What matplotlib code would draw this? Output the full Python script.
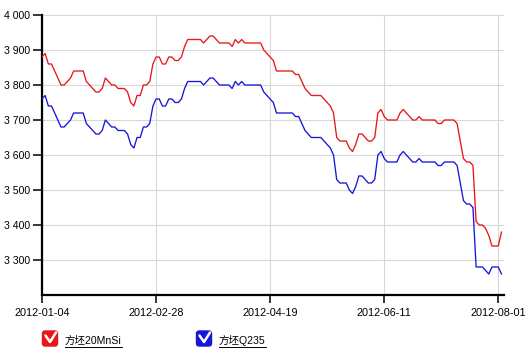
import matplotlib
matplotlib.use("Agg")
import matplotlib.pyplot as plt
from matplotlib.patches import FancyBboxPatch
from matplotlib.ticker import FuncFormatter

# price series, one value per trading day (tick every 36 days)
red_vals = [
    3880, 3890, 3860, 3860, 3840, 3820, 3800, 3800, 3810, 3820,
    3840, 3840, 3840, 3840, 3810, 3800, 3790, 3780, 3780, 3790,
    3820, 3810, 3800, 3800, 3790, 3790, 3790, 3780, 3750, 3740,
    3770, 3770, 3800, 3800, 3810, 3860, 3880, 3880, 3860, 3860,
    3880, 3880, 3870, 3870, 3880, 3910, 3930, 3930, 3930, 3930,
    3930, 3920, 3930, 3940, 3940, 3930, 3920, 3920, 3920, 3920,
    3910, 3930, 3920, 3930, 3920, 3920, 3920, 3920, 3920, 3920,
    3900, 3890, 3880, 3870, 3840, 3840, 3840, 3840, 3840, 3840,
    3830, 3830, 3810, 3790, 3780, 3770, 3770, 3770, 3770, 3760,
    3750, 3740, 3720, 3650, 3640, 3640, 3640, 3620, 3610, 3630,
    3660, 3660, 3650, 3640, 3640, 3650, 3720, 3730, 3710, 3700,
    3700, 3700, 3700, 3720, 3730, 3720, 3710, 3700, 3700, 3710,
    3700, 3700, 3700, 3700, 3700, 3690, 3690, 3700, 3700, 3700,
    3700, 3690, 3640, 3590, 3580, 3580, 3570, 3410, 3400, 3400,
    3390, 3370, 3340, 3340, 3340, 3380,
]
blue_vals = [
    3760, 3770, 3740, 3740, 3720, 3700, 3680, 3680, 3690, 3700,
    3720, 3720, 3720, 3720, 3690, 3680, 3670, 3660, 3660, 3670,
    3700, 3690, 3680, 3680, 3670, 3670, 3670, 3660, 3630, 3620,
    3650, 3650, 3680, 3680, 3690, 3740, 3760, 3760, 3740, 3740,
    3760, 3760, 3750, 3750, 3760, 3790, 3810, 3810, 3810, 3810,
    3810, 3800, 3810, 3820, 3820, 3810, 3800, 3800, 3800, 3800,
    3790, 3810, 3800, 3810, 3800, 3800, 3800, 3800, 3800, 3800,
    3780, 3770, 3760, 3750, 3720, 3720, 3720, 3720, 3720, 3720,
    3710, 3710, 3690, 3670, 3660, 3650, 3650, 3650, 3650, 3640,
    3630, 3620, 3600, 3530, 3520, 3520, 3520, 3500, 3490, 3510,
    3540, 3540, 3530, 3520, 3520, 3530, 3600, 3610, 3590, 3580,
    3580, 3580, 3580, 3600, 3610, 3600, 3590, 3580, 3580, 3590,
    3580, 3580, 3580, 3580, 3580, 3570, 3570, 3580, 3580, 3580,
    3580, 3570, 3520, 3470, 3460, 3460, 3450, 3280, 3280, 3280,
    3270, 3260, 3280, 3280, 3280, 3260,
]
tick_pos = [0, 36, 72, 108, 144]
tick_labels = ["2012-01-04", "2012-02-28", "2012-04-19", "2012-06-11", "2012-08-01"]
y_ticks = [3300, 3400, 3500, 3600, 3700, 3800, 3900, 4000]
series_names = ["方坯20MnSi", "方坯Q235"]

RED = "#e8161b"
BLUE = "#1616d8"
W, H = 529, 355

fig = plt.figure(figsize=(W / 100, H / 100), dpi=100)
ax = fig.add_axes([42 / W, 1 - 295 / H, (504 - 42) / W, 280 / H])

x = list(range(len(red_vals)))
ax.plot(x, red_vals, color=RED, lw=0.95, zorder=3)
ax.plot(x, blue_vals, color=BLUE, lw=0.95, zorder=3)

ax.set_xlim(0, 145.8)
ax.set_ylim(3200, 4000)
ax.set_xticks(tick_pos)
ax.set_xticklabels(tick_labels)
ax.set_yticks(y_ticks)
ax.yaxis.set_major_formatter(FuncFormatter(lambda v, p: f"{int(v):,}".replace(",", " ")))

ax.grid(True, color="#d8d8d8", lw=0.8)
ax.set_axisbelow(True)
for s in ["top", "right"]:
    ax.spines[s].set_visible(False)
for s in ["left", "bottom"]:
    ax.spines[s].set_linewidth(1.6)
    ax.spines[s].set_color("black")

ax.tick_params(axis="y", length=6.5, width=1.1, pad=2, labelsize=7.6)
ax.tick_params(axis="x", length=5.5, width=1.1, pad=3.5, labelsize=7.8)
for lab in ax.get_xticklabels() + ax.get_yticklabels():
    lab.set_family("Liberation Sans")

# legend drawn in pixel coordinates on an overlay
ov = fig.add_axes([0, 0, 1, 1], facecolor="none")
ov.set_xlim(0, W)
ov.set_ylim(H, 0)
ov.axis("off")

legend_x = [42, 196]
for lx, name, col in zip(legend_x, series_names, [RED, BLUE]):
    box = FancyBboxPatch((lx + 1, 331.5), 14, 14, boxstyle="round,pad=0.5,rounding_size=2.5",
                         fc=col, ec=col)
    ov.add_patch(box)
    ov.plot([lx + 3.5, lx + 8, lx + 14], [335.5, 342, 332.5], color="white", lw=1.8,
            solid_capstyle="round", solid_joinstyle="round")
    t = ov.text(lx + 23, 340.5, name, fontsize=7.6, va="center", ha="left",
                family=["Liberation Sans", "Noto Sans CJK SC"])
    fig.canvas.draw()
    bb = t.get_window_extent()
    ov.plot([bb.x0, bb.x1], [347, 347], color="black", lw=0.7)

fig.savefig("out.png", dpi=100)
